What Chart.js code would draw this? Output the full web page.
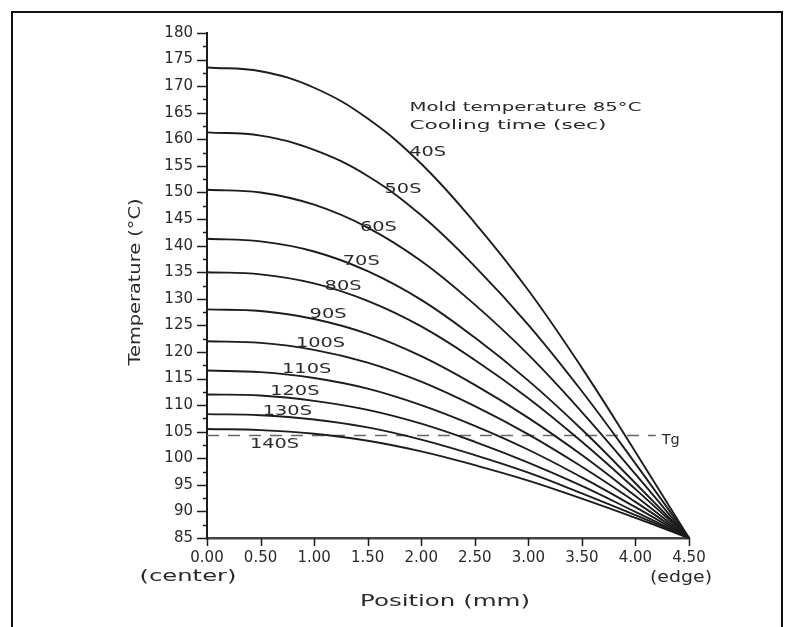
<!DOCTYPE html>
<html>
<head>
<meta charset="utf-8">
<title>Temperature profile</title>
<script src="https://cdn.jsdelivr.net/npm/chart.js@4.4.1/dist/chart.umd.min.js"></script>
<style>
  body { margin: 0; background: #fff; }
  canvas { display: block; }
</style>
</head>
<body>
<canvas id="tempChart" width="800" height="627"></canvas>
<script>
// position across half thickness (mm), 0 = center, 4.5 = edge
const positions = [0, 0.5, 1.0, 1.5, 2.0, 2.5, 3.0, 3.5, 4.0, 4.5];
const coolingTimes = ['40S', '50S', '60S', '70S', '80S', '90S', '100S', '110S', '120S', '130S', '140S'];

// temperatures (°C)
const t40  = [173.5, 172.8, 169.7, 163.9, 155.4, 144.3, 131.6, 117.0, 101.2, 85];
const t50  = [161.3, 160.7, 158.0, 153.1, 145.7, 136.1, 125.1, 112.6, 99.0, 85];
const t60  = [150.5, 150.0, 147.7, 143.4, 137.1, 128.9, 119.5, 108.7, 97.0, 85];
const t70  = [141.3, 140.8, 138.9, 135.2, 129.8, 122.7, 114.6, 105.4, 95.3, 85];
const t80  = [135.0, 134.6, 132.9, 129.6, 124.8, 118.5, 111.3, 103.1, 94.2, 85];
const t90  = [128.0, 127.7, 126.2, 123.4, 119.2, 113.8, 107.6, 100.6, 92.9, 85];
const t100 = [122.0, 121.7, 120.4, 118.0, 114.4, 109.8, 104.5, 98.4, 91.8, 85];
const t110 = [116.5, 116.2, 115.1, 113.1, 110.0, 106.1, 101.6, 96.4, 90.8, 85];
const t120 = [112.0, 111.8, 110.8, 109.1, 106.5, 103.1, 99.2, 94.8, 89.9, 85];
const t130 = [108.3, 108.1, 107.3, 105.8, 103.5, 100.6, 97.3, 93.4, 89.3, 85];
const t140 = [105.5, 105.3, 104.6, 103.3, 101.3, 98.7, 95.8, 92.4, 88.8, 85];
const series = [t40, t50, t60, t70, t80, t90, t100, t110, t120, t130, t140];

const tgValue = 104.3;
const tgEnd = 4.19;

// where each curve label sits (mm, °C)
const labelAt = [
  [2.06, 157.6], [1.83, 150.5], [1.60, 143.5], [1.44, 137.0], [1.27, 132.3],
  [1.13, 127.0], [1.06, 121.7], [0.93, 116.7], [0.82, 112.5], [0.75, 108.8], [0.63, 102.6]
];

const ink = '#1c1c1c';
const textInk = '#2a2a2a';

// draw text stretched to a given width (the scan uses a wide plotter font)
function wideText(ctx, text, x, y, width, font, align) {
  ctx.save();
  ctx.font = font;
  const w = ctx.measureText(text).width;
  const k = width / w;
  let left = x;
  if (align === 'center') left = x - width / 2;
  if (align === 'right') left = x - width;
  ctx.translate(left, y);
  ctx.scale(k, 1);
  ctx.textAlign = 'left';
  ctx.textBaseline = 'middle';
  ctx.fillStyle = textInk;
  ctx.fillText(text, 0, 0);
  ctx.restore();
}

const decorations = {
  id: 'decorations',
  afterDraw(chart) {
    const ctx = chart.ctx;
    const xs = chart.scales.x;
    const ys = chart.scales.y;
    const area = chart.chartArea;

    // picture frame
    ctx.save();
    ctx.strokeStyle = '#111';
    ctx.lineWidth = 2;
    ctx.beginPath();
    ctx.moveTo(12, 627);
    ctx.lineTo(12, 12);
    ctx.lineTo(782, 12);
    ctx.lineTo(782, 627);
    ctx.stroke();

    // tick marks
    ctx.strokeStyle = ink;
    ctx.lineWidth = 1.5;
    ctx.beginPath();
    for (let v = 85; v <= 180; v += 2.5) {
      const py = Math.round(ys.getPixelForValue(v)) + 0.5;
      const len = (v % 5 === 0) ? 10 : 4;
      ctx.moveTo(area.left - len, py);
      ctx.lineTo(area.left, py);
    }
    xs.ticks.forEach(t => {
      const px = Math.round(xs.getPixelForValue(t.value)) + 0.5;
      ctx.moveTo(px, area.bottom);
      ctx.lineTo(px, area.bottom + 8);
    });
    ctx.stroke();
    ctx.restore();

    // curve labels
    coolingTimes.forEach((name, i) => {
      const px = xs.getPixelForValue(labelAt[i][0]);
      const py = ys.getPixelForValue(labelAt[i][1]);
      wideText(ctx, name, px, py, name.length * 12.3, '14px "DejaVu Sans"', 'center');
    });

    // note in the upper right
    const nx = xs.getPixelForValue(1.89);
    wideText(ctx, 'Mold temperature 85°C', nx, ys.getPixelForValue(165.9), 232, '13px "DejaVu Sans"', 'left');
    wideText(ctx, 'Cooling time (sec)', nx, ys.getPixelForValue(162.5), 197, '13px "DejaVu Sans"', 'left');

    // Tg label
    wideText(ctx, 'Tg', xs.getPixelForValue(4.33), ys.getPixelForValue(103.4), 18, '14px "DejaVu Sans"', 'center');

    // axis titles and end notes
    wideText(ctx, '(center)', xs.getPixelForValue(0) - 19, area.bottom + 39, 97, '15px "DejaVu Sans"', 'center');
    wideText(ctx, '(edge)', xs.getPixelForValue(4.5) - 8, area.bottom + 40, 62, '15px "DejaVu Sans"', 'center');
    wideText(ctx, 'Position (mm)', 445, area.bottom + 64, 170, '16px "DejaVu Sans"', 'center');

    ctx.save();
    ctx.translate(136, 282);
    ctx.rotate(-Math.PI / 2);
    wideText(ctx, 'Temperature (°C)', 0, 0, 167, '16px "DejaVu Sans"', 'center');
    ctx.restore();
  }
};

const datasets = series.map((vals, i) => ({
  label: coolingTimes[i],
  data: positions.map((p, j) => ({ x: p, y: vals[j] })),
  borderColor: ink,
  borderWidth: 1.9,
  pointRadius: 0,
  fill: false,
  tension: 0.4,
  clip: false
}));

datasets.push({
  label: 'Tg',
  data: [{ x: 0, y: tgValue }, { x: tgEnd, y: tgValue }],
  borderColor: '#666',
  borderWidth: 1.5,
  borderDash: [12, 9],
  pointRadius: 0,
  fill: false
});

new Chart(document.getElementById('tempChart'), {
  type: 'line',
  data: { datasets },
  options: {
    responsive: false,
    animation: false,
    devicePixelRatio: 1,
    layout: { padding: { left: 0, top: 33, right: 111, bottom: 0 } },
    plugins: {
      legend: { display: false },
      tooltip: { enabled: false }
    },
    scales: {
      x: {
        type: 'linear',
        min: 0,
        max: 4.5,
        afterFit: (scale) => { scale.height = 89; },
        grid: { display: false, drawTicks: false },
        border: { display: true, color: '#444', width: 2.5 },
        ticks: {
          stepSize: 0.5,
          padding: 11,
          color: textInk,
          font: { family: 'DejaVu Sans', size: 15 },
          maxRotation: 0,
          callback: (v) => Number(v).toFixed(2)
        }
      },
      y: {
        type: 'linear',
        min: 85,
        max: 180,
        afterFit: (scale) => { scale.width = 207; },
        grid: { display: false, drawTicks: false },
        border: { display: true, color: ink, width: 2 },
        ticks: {
          stepSize: 5,
          padding: 14,
          color: textInk,
          font: { family: 'DejaVu Sans', size: 15 }
        }
      }
    }
  },
  plugins: [decorations]
});
</script>
</body>
</html>
